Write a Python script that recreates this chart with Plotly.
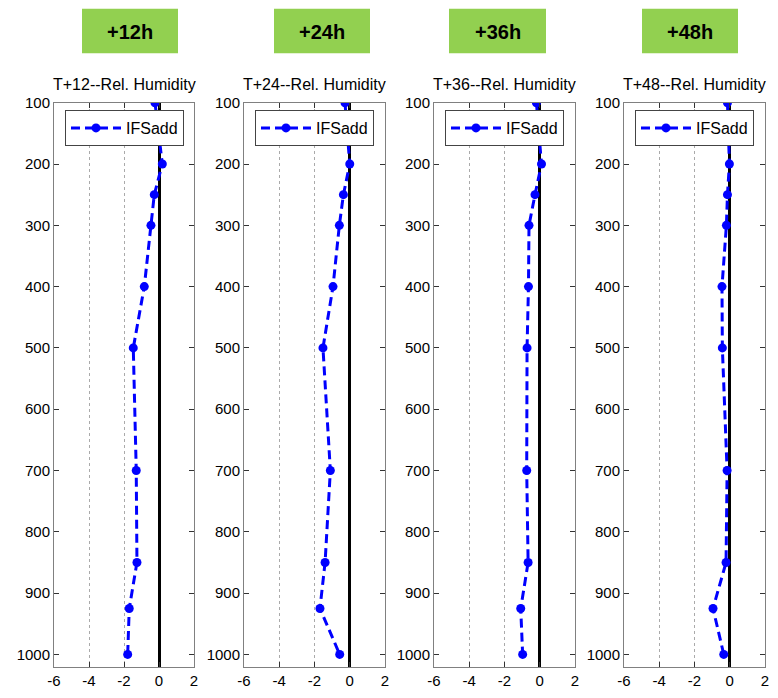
import plotly.graph_objects as go

W, H = 778, 698

levels = [100, 200, 250, 300, 400, 500, 700, 850, 925, 1000]
rh_t12 = [-0.23, 0.19, -0.27, -0.46, -0.84, -1.47, -1.30, -1.26, -1.70, -1.79]
rh_t24 = [-0.27, 0.00, -0.36, -0.59, -0.95, -1.52, -1.10, -1.40, -1.69, -0.57]
rh_t36 = [-0.19, 0.10, -0.27, -0.61, -0.64, -0.72, -0.74, -0.66, -1.08, -0.97]
rh_t48 = [-0.13, -0.02, -0.13, -0.19, -0.44, -0.42, -0.15, -0.21, -0.95, -0.34]

series = [rh_t12, rh_t24, rh_t36, rh_t48]
titles = ["T+12--Rel. Humidity", "T+24--Rel. Humidity", "T+36--Rel. Humidity", "T+48--Rel. Humidity"]
badges = ["+12h", "+24h", "+36h", "+48h"]
series_name = "IFSadd"

x_ticks = [-6, -4, -2, 0, 2]
x_ticktext = ["-6", "-4", "-2", "0", "2"]
y_ticks = [100, 200, 300, 400, 500, 600, 700, 800, 900, 1000]

panel_px = [(54, 194), (244, 385), (434, 575), (624, 765)]
badge_px = [(82, 178), (274, 370), (449, 546), (642, 738)]
plot_top, plot_bot = 102.7, 666.7

FONT = "Arial, Liberation Sans, sans-serif"

fig = go.Figure()
layout = dict(
    width=W, height=H, margin=dict(l=0, r=0, t=0, b=0, autoexpand=False),
    paper_bgcolor="white", plot_bgcolor="white",
    font=dict(family=FONT, size=15, color="black"),
    shapes=[], annotations=[],
)

for i, vals in enumerate(series):
    n = "" if i == 0 else str(i + 1)
    lg = "legend" if i == 0 else f"legend{i+1}"
    fig.add_trace(go.Scatter(
        x=vals, y=levels, mode="lines+markers", name=series_name,
        xaxis=f"x{n}", yaxis=f"y{n}", legend=lg, showlegend=True,
        line=dict(color="#0000FF", width=3, dash="9px,5px"),
        marker=dict(color="#0000FF", size=9, symbol="circle"),
    ))
    x0, x1 = panel_px[i]
    layout[f"xaxis{n}"] = dict(
        domain=[x0 / W, x1 / W], range=[-6, 2], anchor=f"y{n}", automargin=False,
        tickvals=x_ticks, ticktext=x_ticktext, ticks="inside", ticklen=5, tickcolor="#333",
        showline=True, linecolor="#808080", linewidth=1, mirror="ticks",
        showgrid=True, gridcolor="#aaa", griddash="dot", gridwidth=1,
        zeroline=True, zerolinecolor="black", zerolinewidth=3,
        tickfont=dict(size=15), fixedrange=True,
    )
    layout[f"yaxis{n}"] = dict(
        domain=[1 - plot_bot / H, 1 - plot_top / H], range=[1020, 100], anchor=f"x{n}",
        automargin=False,
        tickvals=y_ticks, ticks="inside", ticklen=5, tickcolor="#333",
        showline=True, linecolor="#808080", linewidth=1, mirror="ticks",
        showgrid=False, zeroline=False, tickfont=dict(size=15), fixedrange=True,
    )
    layout[lg] = dict(
        x=(x0 + 11) / W, y=1 - 110 / H, xanchor="left", yanchor="top",
        bgcolor="white", bordercolor="#444", borderwidth=1,
        font=dict(size=16, family=FONT), itemwidth=50,
    )
    layout["annotations"].append(dict(
        text=titles[i], x=(x0 + x1) / 2 / W, y=1 - 85 / H, xref="paper", yref="paper",
        xanchor="center", yanchor="middle", showarrow=False, font=dict(size=16, family=FONT),
    ))
    bx0, bx1 = badge_px[i]
    layout["shapes"].append(dict(
        type="rect", xref="paper", yref="paper", x0=bx0 / W, x1=bx1 / W,
        y0=1 - 53.3 / H, y1=1 - 8.7 / H, fillcolor="#92D050", line=dict(width=0), layer="below",
    ))
    layout["annotations"].append(dict(
        text=f"<b>{badges[i]}</b>", x=(bx0 + bx1) / 2 / W, y=1 - 32 / H, xref="paper", yref="paper",
        xanchor="center", yanchor="middle", showarrow=False, font=dict(size=20, family=FONT, color="black"),
    ))

fig.update_layout(**layout)
fig.write_html("out.html")
